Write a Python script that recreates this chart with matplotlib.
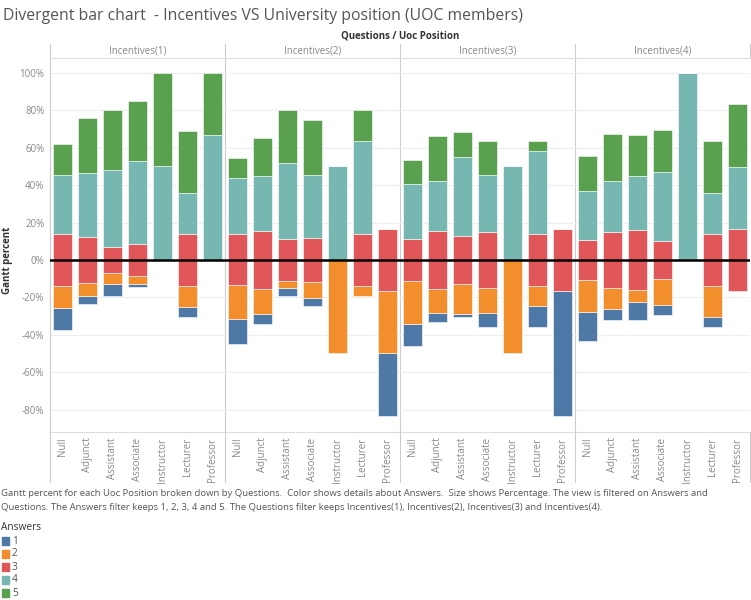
import numpy as np
import matplotlib
matplotlib.use("Agg")
import matplotlib.pyplot as plt

plt.rcParams['font.family'] = ['Open Sans', 'DejaVu Sans']

questions = ["Incentives(1)", "Incentives(2)", "Incentives(3)", "Incentives(4)"]
positions = ["Null", "Adjunct", "Assistant", "Associate", "Instructor", "Lecturer", "Professor"]
answers = ["1", "2", "3", "4", "5"]
colors = ["#4e79a7", "#f28e2b", "#e15759", "#76b7b2", "#59a14f"]

# percentage of each answer, per question, per position
ans1 = [[11.9, 4.5, 6.1, 1.6, 0, 5.7, 0],
        [13.1, 5.7, 4.1, 4.2, 0, 0, 33.3],
        [11.8, 4.8, 1.8, 7.5, 0, 10.9, 66.7],
        [15.7, 6.0, 9.8, 5.7, 0, 5.0, 0]]
ans2 = [[11.4, 6.9, 6.0, 4.3, 0, 10.9, 0],
        [18.0, 13.0, 3.9, 8.8, 50, 5.5, 33.3],
        [22.9, 13.0, 16.0, 13.4, 50, 10.9, 0],
        [17.2, 11.1, 6.4, 13.75, 0, 16.8, 0]]
ans3 = [[28.2, 24.3, 14.1, 17.5, 0, 28.0, 0],
        [27.3, 31.3, 22.3, 23.6, 0, 28.0, 33.3],
        [22.3, 30.9, 25.9, 30.2, 0, 27.9, 33.3],
        [21.4, 30.2, 32.3, 20.2, 0, 27.9, 33.3]]
ans4 = [[31.1, 34.5, 40.9, 44.1, 50, 22.0, 66.7],
        [30.2, 29.5, 40.6, 33.7, 50, 49.5, 0],
        [29.3, 26.8, 42.0, 30.2, 50, 44.5, 0],
        [26.4, 27.1, 28.6, 36.8, 100, 22.1, 33.3]]
ans5 = [[16.8, 29.4, 32.4, 32.2, 50, 33.2, 33.3],
        [10.9, 20.3, 28.5, 29.1, 0, 16.75, 0],
        [13.0, 24.1, 13.7, 18.5, 0, 5.2, 0],
        [18.6, 25.0, 22.3, 22.7, 0, 27.5, 33.3]]

a1 = np.array(ans1).ravel()
a2 = np.array(ans2).ravel()
a3 = np.array(ans3).ravel()
a4 = np.array(ans4).ravel()
a5 = np.array(ans5).ravel()
x = np.arange(len(a1))

# divergent stacking: answer 3 centred on zero
b3 = -a3 / 2
b2 = b3 - a2
b1 = b2 - a1
b4 = a3 / 2
b5 = b4 + a4

fig = plt.figure(figsize=(7.51, 6.0), dpi=100)
ax = fig.add_axes([50/751, 1 - 432/600, 700/751, (432 - 58)/600])

w = 0.75
for vals, bots, c in zip([a1, a2, a3, a4, a5], [b1, b2, b3, b4, b5], colors):
    ax.bar(x, vals, w, bottom=bots, color=c, edgecolor="white", linewidth=0.4, zorder=3)

ax.axhline(0, color="black", lw=1.8, zorder=4)
ax.set_xlim(-0.5, len(x) - 0.5)
ax.set_ylim(-92, 108)
ax.set_yticks(np.arange(-80, 101, 20))
ax.set_yticklabels([f"{v}%" for v in range(-80, 101, 20)], fontsize=7, color="#888888")
ax.yaxis.grid(True, color="#eeeeee", lw=0.8, zorder=0)
ax.tick_params(axis="y", length=0, pad=4)
ax.set_xticks(x)
ax.set_xticklabels(positions * 4, rotation=90, fontsize=7, color="#888888", va="top")
ax.tick_params(axis="x", length=0, pad=4)
for s in ["top", "right"]:
    ax.spines[s].set_visible(False)
ax.spines["left"].set_color("#cccccc")
ax.spines["bottom"].set_color("#dddddd")
for k in range(1, 4):
    ax.axvline(k * 7 - 0.5, color="#cccccc", lw=0.8, zorder=1)

# separators through header and tick label areas
for k in range(0, 5):
    xf = (50 + k * 175) / 751
    if k == 4:
        xf = 749.5 / 751
    fig.add_artist(plt.Line2D([xf, xf], [1 - 44/600, 1 - 58/600], color="#cccccc", lw=0.8))
    fig.add_artist(plt.Line2D([xf, xf], [1 - 482/600, 1 - 432/600], color="#cccccc", lw=0.8))
fig.add_artist(plt.Line2D([50/751, 750/751], [1 - 57.5/600, 1 - 57.5/600], color="#dddddd", lw=0.8))
for k, q in enumerate(questions):
    fig.text((50 + k * 175 + 87.5) / 751, 1 - 51/600, q, ha="center", va="center",
             fontsize=7, color="#888888")

fig.text(400/751, 1 - 36/600, "Questions / Uoc Position", ha="center", va="center",
         fontsize=7, color="#333333", fontweight="bold")
fig.text(3/751, 1 - 16/600, "Divergent bar chart  - Incentives VS University position (UOC members)",
         ha="left", va="center", fontsize=11.3, color="#555555")
fig.text(8/751, 1 - 260/600, "Gantt percent", rotation=90, ha="center", va="center",
         fontsize=7, color="#333333", fontweight="bold")

fig.text(1/751, 1 - 494/600,
         "Gantt percent for each Uoc Position broken down by Questions.  Color shows details about Answers.  "
         "Size shows Percentage. The view is filtered on Answers and",
         ha="left", va="center", fontsize=6.8, color="#555555")
fig.text(1/751, 1 - 507/600,
         "Questions. The Answers filter keeps 1, 2, 3, 4 and 5. The Questions filter keeps Incentives(1), "
         "Incentives(2), Incentives(3) and Incentives(4).",
         ha="left", va="center", fontsize=6.8, color="#555555")

fig.text(1/751, 1 - 528/600, "Answers", ha="left", va="center", fontsize=7.3, color="#333333")
for i, (a, c) in enumerate(zip(answers, colors)):
    yc = 541 + i * 13
    fig.add_artist(plt.Rectangle((2/751, 1 - (yc + 4)/600), 7/751, 8/600, color=c))
    fig.text(12/751, 1 - yc/600, a, ha="left", va="center", fontsize=7.3, color="#555555")

fig.savefig("out.png", dpi=100)
